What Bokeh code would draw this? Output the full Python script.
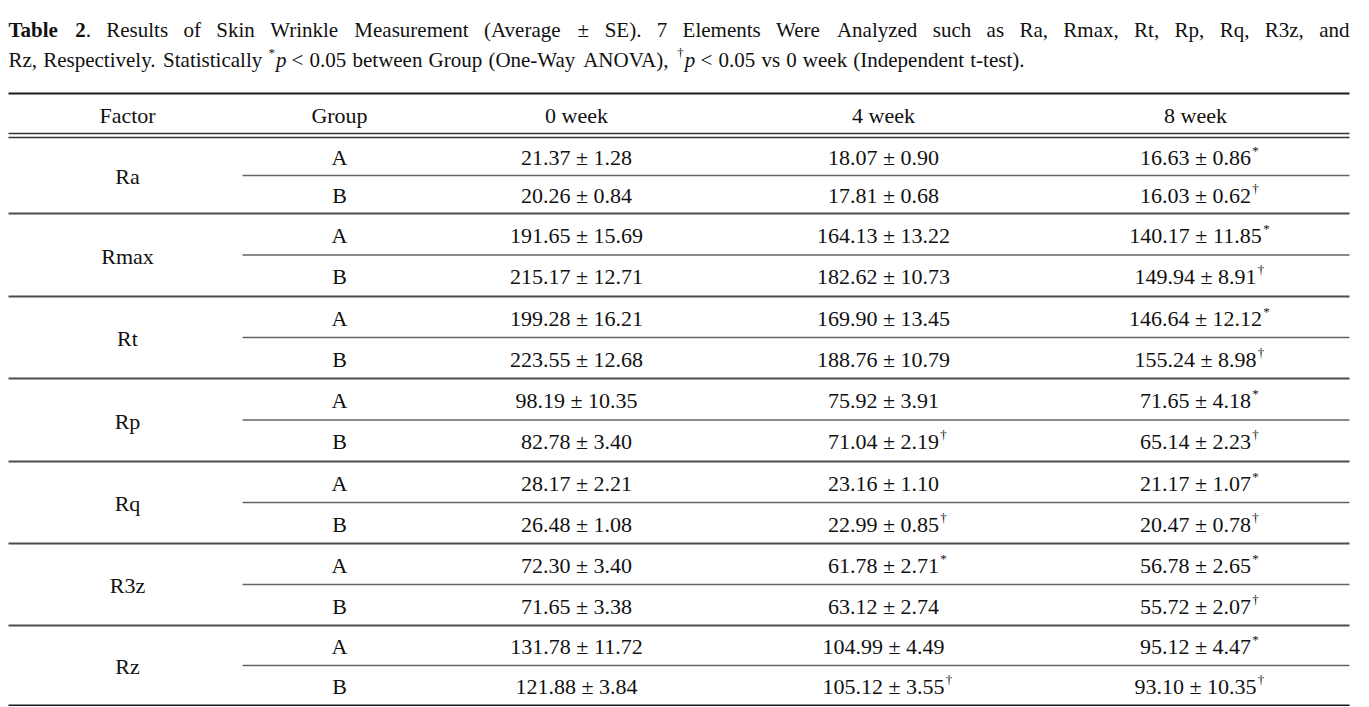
from bokeh.plotting import figure
from bokeh.models import Range1d, ColumnDataSource
from bokeh.core.properties import value
from bokeh.embed import file_html
from bokeh.resources import INLINE

FONT = "Liberation Serif"

# ---------------- data ----------------
title_line1 = "Table 2. Results of Skin Wrinkle Measurement (Average ± SE). 7 Elements Were Analyzed such as Ra, Rmax, Rt, Rp, Rq, R3z, and"
title_line2 = "Rz, Respectively. Statistically *p < 0.05 between Group (One-Way ANOVA), †p < 0.05 vs 0 week (Independent t-test)."

headers = ["Factor", "Group", "0 week", "4 week", "8 week"]
factors = ["Ra", "Rmax", "Rt", "Rp", "Rq", "R3z", "Rz"]
groups = ["A", "B"]

week0_mean = [21.37, 20.26, 191.65, 215.17, 199.28, 223.55, 98.19, 82.78, 28.17, 26.48, 72.30, 71.65, 131.78, 121.88]
week0_se = [1.28, 0.84, 15.69, 12.71, 16.21, 12.68, 10.35, 3.40, 2.21, 1.08, 3.40, 3.38, 11.72, 3.84]
week0_mark = ["", "", "", "", "", "", "", "", "", "", "", "", "", ""]

week4_mean = [18.07, 17.81, 164.13, 182.62, 169.90, 188.76, 75.92, 71.04, 23.16, 22.99, 61.78, 63.12, 104.99, 105.12]
week4_se = [0.90, 0.68, 13.22, 10.73, 13.45, 10.79, 3.91, 2.19, 1.10, 0.85, 2.71, 2.74, 4.49, 3.55]
week4_mark = ["", "", "", "", "", "", "", "†", "", "†", "*", "", "", "†"]

week8_mean = [16.63, 16.03, 140.17, 149.94, 146.64, 155.24, 71.65, 65.14, 21.17, 20.47, 56.78, 55.72, 95.12, 93.10]
week8_se = [0.86, 0.62, 11.85, 8.91, 12.12, 8.98, 4.18, 2.23, 1.07, 0.78, 2.65, 2.07, 4.47, 10.35]
week8_mark = ["*", "†", "*", "†", "*", "†", "*", "†", "*", "†", "*", "†", "*", "†"]

# ---------------- font metrics (Times-compatible) ----------------
W = {' ': 250, '!': 333, '(': 333, ')': 333, '*': 500, ',': 250, '-': 333, '.': 250,
     '<': 564, '±': 564, '†': 500}
for d in "0123456789":
    W[d] = 500
for ch, w in zip("ABCDEFGHIJKLMNOPQRSTUVWXYZ",
                 [722, 667, 667, 722, 611, 556, 722, 722, 333, 389, 722, 611, 889, 722, 722, 556, 722, 667, 556, 611, 722, 722, 944, 722, 722, 611]):
    W[ch] = w
for ch, w in zip("abcdefghijklmnopqrstuvwxyz",
                 [444, 500, 444, 500, 444, 333, 500, 500, 278, 278, 500, 278, 778, 500, 500, 500, 500, 333, 389, 278, 500, 500, 722, 500, 500, 444]):
    W[ch] = w
WB = {'T': 667, 'a': 500, 'b': 556, 'l': 278, 'e': 444, '2': 500, ' ': 250}


def tw(s, size, style="normal"):
    tot = 0
    for ch in s:
        if style == "bold":
            tot += WB.get(ch, W.get(ch, 500) * 1.05)
        else:
            tot += W.get(ch, 500)
    return tot * size / 1000.0


# ---------------- figure ----------------
# data coordinates are page pixels (y downward)
p = figure(width=1369, height=706, x_range=Range1d(0, 1369), y_range=Range1d(706, 0),
           output_backend="svg", toolbar_location=None, min_border=0,
           x_axis_type=None, y_axis_type=None,
           background_fill_color="white", border_fill_color="white")
p.outline_line_color = None

texts = {}


def add_text(style, size, align, x, y, s):
    key = (style, size, align)
    d = texts.setdefault(key, dict(x=[], y=[], text=[]))
    d["x"].append(x)
    d["y"].append(y)
    d["text"].append(s)


TS = 21          # title font size
SUP_T = 13
X_LEFT, X_RIGHT = 8, 1349


def layout_line(words, x0, x1, yc, size, sup_size):
    widths = []
    for wd in words:
        w = 0
        for t, st in wd:
            w += tw(t, sup_size if st == "sup" else size, "bold" if st == "bold" else "normal")
        widths.append(w)
    gap = (x1 - x0 - sum(widths)) / (len(words) - 1)
    x = x0
    for wd, w in zip(words, widths):
        xx = x
        for t, st in wd:
            if st == "sup":
                add_text("normal", sup_size, "left", xx, yc - 7, t)
                xx += tw(t, sup_size) + 1
            else:
                add_text(st, size, "left", xx, yc, t)
                xx += tw(t, size, st)
        x += w + gap


# title line 1 (justified)
l1 = title_line1.split(" ")
words1 = [[("Table", "bold")], [("2", "bold"), (".", "normal")]] + [[(w, "normal")] for w in l1[2:]]
layout_line(words1, X_LEFT, X_RIGHT, 29, TS, SUP_T)

# title line 2
words2 = []
for w in title_line2.split(" "):
    if w[0] in "*†":
        words2.append([(w[0], "sup"), (w[1:], "italic")])
    else:
        words2.append([(w, "normal")])
layout_line(words2, X_LEFT, 1024, 59, TS, SUP_T)

# ---------------- table ----------------
FS = 22
SUP = 13
col_x = [127, 339, 576, 883, 1195]
group_left = 242
Y_TOP = 93
Y_HEAD = 115
Y_DBL1, Y_DBL2 = 133, 137
block_bottoms = [213, 296, 378, 461, 543, 625, 705]
block_tops = [Y_DBL2] + block_bottoms[:-1]

for x, h in zip(col_x, headers):
    add_text("normal", FS, "center", x, Y_HEAD, h)

row_y = []
inner_y = []
for t, b in zip(block_tops, block_bottoms):
    m = (t + b) / 2.0
    inner_y.append(m)
    row_y += [(t + m) / 2.0 + 1, (m + b) / 2.0 + 1]

for i, f in enumerate(factors):
    add_text("normal", FS, "center", col_x[0], inner_y[i] + 1, f)

for r in range(len(row_y)):
    add_text("normal", FS, "center", col_x[1], row_y[r], groups[r % 2])

for ci, (means, ses, marks) in enumerate([(week0_mean, week0_se, week0_mark),
                                           (week4_mean, week4_se, week4_mark),
                                           (week8_mean, week8_se, week8_mark)]):
    cx = col_x[2 + ci]
    for r in range(len(means)):
        s = f"{means[r]:.2f} ± {ses[r]:.2f}"
        add_text("normal", FS, "center", cx, row_y[r], s)
        if marks[r]:
            add_text("normal", SUP, "left", cx + tw(s, FS) / 2.0 + 1, row_y[r] - 7, marks[r])

for (style, size, align), d in texts.items():
    p.text(x="x", y="y", text="text", source=ColumnDataSource(d),
           text_font=value(FONT), text_font_size=value(f"{size}px"),
           text_font_style=value(style), text_align=value(align),
           text_baseline=value("middle"), text_color="#111111")

# rules
p.segment(x0=[X_LEFT, X_LEFT], x1=[X_RIGHT, X_RIGHT], y0=[Y_TOP, block_bottoms[-1]],
          y1=[Y_TOP, block_bottoms[-1]], line_color="#1a1a1a", line_width=2)
p.segment(x0=[X_LEFT, X_LEFT], x1=[X_RIGHT, X_RIGHT], y0=[Y_DBL1, Y_DBL2], y1=[Y_DBL1, Y_DBL2],
          line_color="#333333", line_width=1.3)
sep = block_bottoms[:-1]
p.segment(x0=[X_LEFT] * len(sep), x1=[X_RIGHT] * len(sep), y0=sep, y1=sep,
          line_color="#4d4d4d", line_width=2)
p.segment(x0=[group_left] * len(inner_y), x1=[X_RIGHT] * len(inner_y), y0=inner_y, y1=inner_y,
          line_color="#666666", line_width=1.6)

open("out.html", "w").write(file_html(p, INLINE))
